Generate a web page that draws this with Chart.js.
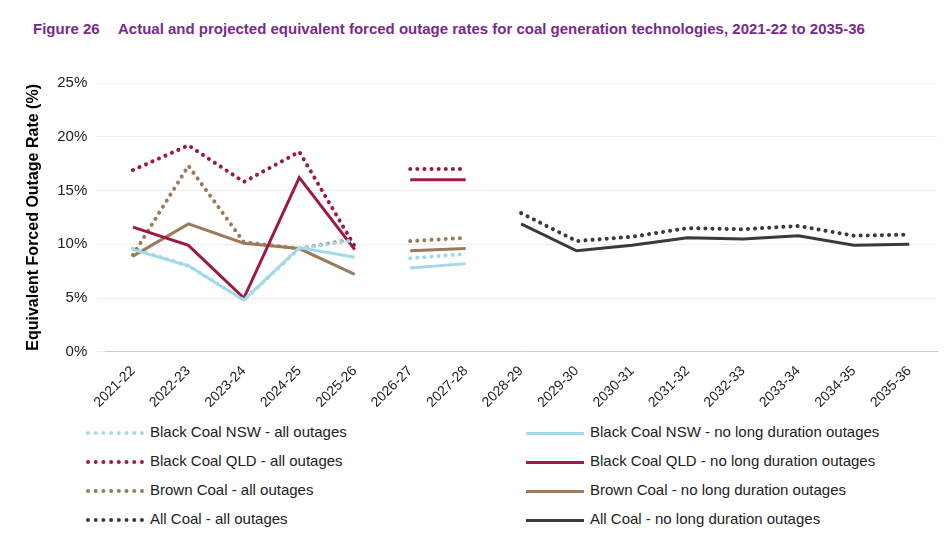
<!DOCTYPE html><html><head><meta charset="utf-8">
<script src="https://cdn.jsdelivr.net/npm/chart.js"></script>
<style>
body{margin:0;background:#fff;font-family:Arial,"Liberation Sans",sans-serif;width:945px;height:540px;overflow:hidden;position:relative}
#t{position:absolute;left:33px;top:19px;color:#7a2a8a;font-weight:bold;font-size:15px;line-height:19px;width:870px}
#t span{display:inline-block;width:85px}
#c{position:absolute;left:0;top:64px}
#lg{position:absolute;left:86px;top:422px;width:860px;font-size:15px;color:#222}
.it{position:absolute;height:20px;line-height:20px;white-space:nowrap}
.sw{display:inline-block;width:58px;height:0;vertical-align:middle;margin-right:6px}
</style></head><body>
<div id="t"><span>Figure 26</span>Actual and projected equivalent forced outage rates for coal generation technologies, 2021-22 to 2035-36</div>
<div id="c" style="width:945px;height:350px"><canvas id="cv"></canvas></div>
<div id="lg"></div>
<script>
const categories=["2021-22","2022-23","2023-24","2024-25","2025-26","2026-27","2027-28","2028-29","2029-30","2030-31","2031-32","2032-33","2033-34","2034-35","2035-36"];
const N=null;
const nswAll=[9.6,8.0,4.8,9.6,10.4,8.7,9.1,N,N,N,N,N,N,N,N];
const nswNo=[9.5,8.0,4.8,9.7,8.8,7.8,8.2,N,N,N,N,N,N,N,N];
const qldAll=[16.9,19.2,15.8,18.6,9.8,17.0,17.0,N,N,N,N,N,N,N,N];
const qldNo=[11.6,9.9,5.0,16.2,9.5,16.0,16.0,N,N,N,N,N,N,N,N];
const brownAll=[9.0,17.3,10.2,9.6,10.5,10.3,10.6,N,N,N,N,N,N,N,N];
const brownNo=[8.9,11.9,10.1,9.6,7.2,9.4,9.6,N,N,N,N,N,N,N,N];
const allAll=[N,N,N,N,N,N,N,12.9,10.3,10.7,11.5,11.4,11.7,10.8,10.9];
const allNo=[N,N,N,N,N,N,N,11.9,9.4,9.9,10.6,10.5,10.8,9.9,10.0];
const yTicks=[0,5,10,15,20,25];
const C={nsw:"#a3d9e8",qld:"#9b1b43",brown:"#9a7b5c",all:"#3a3a3a"};
function seg(a){const h=a.slice();h[5]=N;h[6]=N;const p=a.map((v,i)=>i>=5&&i<=6?v:N);return [h,p];}
const defs=[
 ["Black Coal NSW - all outages",nswAll,C.nsw,true],
 ["Black Coal NSW - no long duration outages",nswNo,C.nsw,false],
 ["Black Coal QLD - all outages",qldAll,C.qld,true],
 ["Black Coal QLD - no long duration outages",qldNo,C.qld,false],
 ["Brown Coal - all outages",brownAll,C.brown,true],
 ["Brown Coal - no long duration outages",brownNo,C.brown,false],
 ["All Coal - all outages",allAll,C.all,true],
 ["All Coal - no long duration outages",allNo,C.all,false]];
const ds=[];
defs.forEach(d=>{seg(d[1]).forEach(s=>ds.push({label:d[0],data:s,borderColor:d[2],borderWidth:d[3]?4:3,borderDash:d[3]?[0.1,7]:[],borderCapStyle:d[3]?"round":"butt",pointRadius:0,tension:0,spanGaps:false,fill:false}));});
new Chart(document.getElementById("cv"),{type:"line",data:{labels:categories,datasets:ds},
options:{responsive:true,maintainAspectRatio:false,animation:false,layout:{padding:{left:20,right:8,top:8}},
plugins:{legend:{display:false},tooltip:{enabled:false}},
scales:{x:{offset:true,grid:{display:false},border:{color:"#ccc"},ticks:{color:"#222",font:{size:14},maxRotation:45,minRotation:45}},
y:{min:0,max:25,afterBuildTicks:a=>{a.ticks=yTicks.map(v=>({value:v}));},grid:{color:"#eee"},border:{display:false},
ticks:{color:"#222",font:{size:15},callback:v=>v+"%",padding:10},
title:{display:true,text:"Equivalent Forced Outage Rate (%)",color:"#000",font:{size:16,weight:"bold"}}}}}});
const lg=document.getElementById("lg");
defs.forEach((d,i)=>{const e=document.createElement("div");e.className="it";
e.style.left=(i%2?440:0)+"px";e.style.top=(Math.floor(i/2)*29)+"px";
const b=d[3]?`border-top:4px dotted ${d[2]}`:`border-top:3px solid ${d[2]}`;
e.innerHTML=`<span class="sw" style="${b}"></span>${d[0]}`;lg.appendChild(e);});
</script></body></html>
